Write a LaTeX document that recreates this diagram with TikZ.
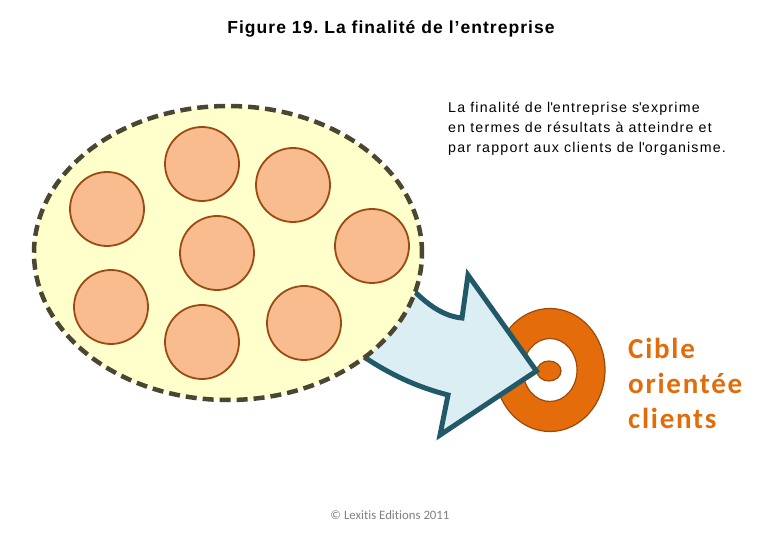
\documentclass[tikz,border=0pt]{standalone}
\usepackage{fontspec}
\setmainfont{Liberation Sans}
\newfontfamily\titlefont[LetterSpace=6]{Liberation Sans}
\newfontfamily\notefont[LetterSpace=8.5]{Liberation Sans}
\newfontfamily\ciblefont[LetterSpace=6]{Carlito}
\newfontfamily\calibfont[Ligatures=NoCommon]{Carlito}
\usetikzlibrary{shapes.geometric, positioning, calc}

\definecolor{groupfill}{HTML}{FFFFCC}
\definecolor{groupline}{HTML}{4A4631}
\definecolor{memberfill}{HTML}{F9BC8F}
\definecolor{memberline}{HTML}{9A4A12}
\definecolor{arrowfill}{HTML}{DAEEF3}
\definecolor{arrowline}{HTML}{215968}
\definecolor{ringfill}{HTML}{E46C0A}
\definecolor{ringline}{HTML}{9C4A0A}
\definecolor{cibletext}{HTML}{E36C0A}

\begin{document}
\frenchspacing
\begin{tikzpicture}[x=1pt,y=-1pt,
          member/.style={circle, draw=memberline, fill=memberfill,
              line width=1.8pt, minimum size=74pt, inner sep=0pt},
          group/.style={ellipse, draw=groupline, fill=groupfill,
              line width=4.5pt, dash pattern=on 11pt off 6pt,
              minimum width=388pt, minimum height=294pt},
          ring/.style={ellipse, draw=ringline, line width=1.2pt, inner sep=0pt},
          pointer/.style={draw=arrowline, fill=arrowfill, line width=5pt},
        ]
        \useasboundingbox (0,0) rectangle (780,540);

        \node[font=\titlefont\bfseries\fontsize{17.5}{20}\selectfont] (title) at (391,29)
            {Figure 19. La finalité de l’entreprise};
        \node[anchor=north west, align=left, inner sep=0pt,
              font=\notefont\fontsize{14.2}{20}\selectfont] (note) at (448,102)
            {La finalité de l\textquotesingle entreprise s\textquotesingle exprime\\
             en termes de résultats à atteindre et\\
             par rapport aux clients de l\textquotesingle organisme.};

        % target
        \node[ring, fill=ringfill, minimum width=110pt, minimum height=123pt] (outer) at (550,370) {};
        \node[ring, fill=white, minimum width=54pt, minimum height=63pt] (inner) at (550,370) {};
        \node[ring, fill=ringfill, minimum width=24pt, minimum height=20pt] (eye) at (549,371) {};

        % block arrow, tail hidden under the group
        \draw[pointer] (395,270) .. controls (420,300) and (440,316) .. (462,318)
            -- (468,275) -- (eye.west) -- (440,435) -- (448,395)
            .. controls (410,385) and (380,370) .. (340,340) -- cycle;

        \node[group] (grp) at (228,253) {};
        \node[member] (m1) at (107,209) {};
        \node[member] (m2) at (202,164) {};
        \node[member] (m3) at (293,185) {};
        \node[member] (m4) at (217,253) {};
        \node[member] (m5) at (372,246) {};
        \node[member] (m6) at (111,307) {};
        \node[member] (m7) at (202,342) {};
        \node[member] (m8) at (304,323) {};

        \node[anchor=north west, align=left, inner sep=0pt, text=cibletext,
              font=\ciblefont\bfseries\fontsize{29}{35}\selectfont] (goal) at (628,338)
            {Cible\\orientée\\clients};
        \node[text=gray, font=\calibfont\fontsize{12.8}{14}\selectfont] (copy) at (390,515)
            {© Lexitis Editions 2011};
\end{tikzpicture}
\end{document}
